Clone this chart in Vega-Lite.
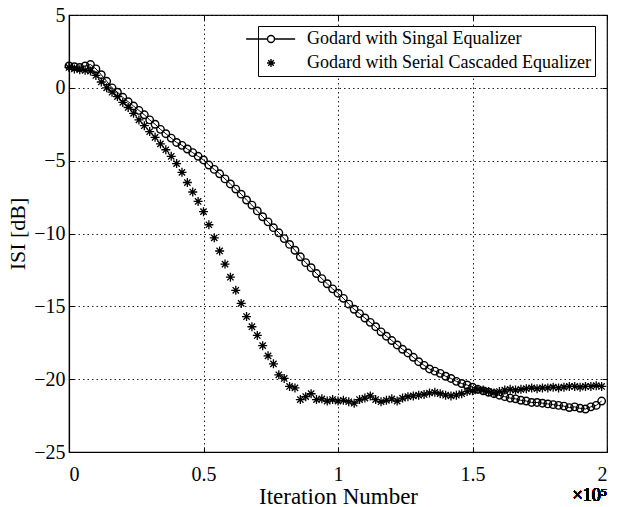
{
  "$schema": "https://vega.github.io/schema/vega-lite/v6.json",
  "width": 538,
  "height": 437,
  "autosize": {"type": "none"},
  "padding": {"left": 69, "top": 15, "right": 16, "bottom": 55},
  "background": "white",
  "config": {
    "font": "Liberation Serif",
    "view": {"stroke": "black", "strokeWidth": 1.2},
    "axis": {
      "domainColor": "black",
      "domainWidth": 1.2,
      "tickColor": "black",
      "tickSize": -5,
      "labelColor": "black",
      "titleColor": "black",
      "labelFont": "Liberation Serif",
      "titleFont": "Liberation Serif",
      "labelFontSize": 20,
      "titleFontSize": 22,
      "titleFontWeight": "normal",
      "gridColor": "#222222",
      "gridDash": [1.5, 3],
      "gridWidth": 1,
      "gridOpacity": 1
    }
  },
  "datasets": {
    "isi": [
      {"iter": 0, "isi": 1.5, "series": "single"}, {"iter": 2000, "isi": 1.45, "series": "single"}, {"iter": 4000, "isi": 1.4, "series": "single"}, {"iter": 6000, "isi": 1.5, "series": "single"}, {"iter": 8000, "isi": 1.6, "series": "single"},
      {"iter": 10000, "isi": 1.3, "series": "single"}, {"iter": 12000, "isi": 0.9, "series": "single"}, {"iter": 14000, "isi": 0.45, "series": "single"}, {"iter": 16000, "isi": 0.0, "series": "single"}, {"iter": 18000, "isi": -0.3, "series": "single"},
      {"iter": 20000, "isi": -0.65, "series": "single"}, {"iter": 22000, "isi": -0.95, "series": "single"}, {"iter": 24000, "isi": -1.25, "series": "single"}, {"iter": 26000, "isi": -1.55, "series": "single"}, {"iter": 28000, "isi": -1.85, "series": "single"},
      {"iter": 30000, "isi": -2.2, "series": "single"}, {"iter": 32000, "isi": -2.5, "series": "single"}, {"iter": 34000, "isi": -2.85, "series": "single"}, {"iter": 36000, "isi": -3.15, "series": "single"}, {"iter": 38000, "isi": -3.45, "series": "single"},
      {"iter": 40000, "isi": -3.75, "series": "single"}, {"iter": 42000, "isi": -3.95, "series": "single"}, {"iter": 44000, "isi": -4.2, "series": "single"}, {"iter": 46000, "isi": -4.45, "series": "single"}, {"iter": 48000, "isi": -4.7, "series": "single"},
      {"iter": 50000, "isi": -4.95, "series": "single"}, {"iter": 52000, "isi": -5.3, "series": "single"}, {"iter": 54000, "isi": -5.6, "series": "single"}, {"iter": 56000, "isi": -5.9, "series": "single"}, {"iter": 58000, "isi": -6.25, "series": "single"},
      {"iter": 60000, "isi": -6.6, "series": "single"}, {"iter": 62000, "isi": -6.95, "series": "single"}, {"iter": 64000, "isi": -7.3, "series": "single"}, {"iter": 66000, "isi": -7.7, "series": "single"}, {"iter": 68000, "isi": -8.05, "series": "single"},
      {"iter": 70000, "isi": -8.45, "series": "single"}, {"iter": 72000, "isi": -8.85, "series": "single"}, {"iter": 74000, "isi": -9.2, "series": "single"}, {"iter": 76000, "isi": -9.6, "series": "single"}, {"iter": 78000, "isi": -9.95, "series": "single"},
      {"iter": 80000, "isi": -10.35, "series": "single"}, {"iter": 82000, "isi": -10.75, "series": "single"}, {"iter": 84000, "isi": -11.15, "series": "single"}, {"iter": 86000, "isi": -11.6, "series": "single"}, {"iter": 88000, "isi": -12.0, "series": "single"},
      {"iter": 90000, "isi": -12.35, "series": "single"}, {"iter": 92000, "isi": -12.75, "series": "single"}, {"iter": 94000, "isi": -13.1, "series": "single"}, {"iter": 96000, "isi": -13.45, "series": "single"}, {"iter": 98000, "isi": -13.8, "series": "single"},
      {"iter": 100000, "isi": -14.1, "series": "single"}, {"iter": 102000, "isi": -14.45, "series": "single"}, {"iter": 104000, "isi": -14.85, "series": "single"}, {"iter": 106000, "isi": -15.2, "series": "single"}, {"iter": 108000, "isi": -15.5, "series": "single"},
      {"iter": 110000, "isi": -15.8, "series": "single"}, {"iter": 112000, "isi": -16.1, "series": "single"}, {"iter": 114000, "isi": -16.4, "series": "single"}, {"iter": 116000, "isi": -16.75, "series": "single"}, {"iter": 118000, "isi": -17.05, "series": "single"},
      {"iter": 120000, "isi": -17.35, "series": "single"}, {"iter": 122000, "isi": -17.65, "series": "single"}, {"iter": 124000, "isi": -17.95, "series": "single"}, {"iter": 126000, "isi": -18.2, "series": "single"}, {"iter": 128000, "isi": -18.5, "series": "single"},
      {"iter": 130000, "isi": -18.8, "series": "single"}, {"iter": 132000, "isi": -19.05, "series": "single"}, {"iter": 134000, "isi": -19.3, "series": "single"}, {"iter": 136000, "isi": -19.45, "series": "single"}, {"iter": 138000, "isi": -19.6, "series": "single"},
      {"iter": 140000, "isi": -19.8, "series": "single"}, {"iter": 142000, "isi": -19.95, "series": "single"}, {"iter": 144000, "isi": -20.15, "series": "single"}, {"iter": 146000, "isi": -20.3, "series": "single"}, {"iter": 148000, "isi": -20.4, "series": "single"},
      {"iter": 150000, "isi": -20.55, "series": "single"}, {"iter": 152000, "isi": -20.7, "series": "single"}, {"iter": 154000, "isi": -20.8, "series": "single"}, {"iter": 156000, "isi": -20.9, "series": "single"}, {"iter": 158000, "isi": -21.0, "series": "single"},
      {"iter": 160000, "isi": -21.1, "series": "single"}, {"iter": 162000, "isi": -21.2, "series": "single"}, {"iter": 164000, "isi": -21.3, "series": "single"}, {"iter": 166000, "isi": -21.35, "series": "single"}, {"iter": 168000, "isi": -21.45, "series": "single"},
      {"iter": 170000, "isi": -21.5, "series": "single"}, {"iter": 172000, "isi": -21.6, "series": "single"}, {"iter": 174000, "isi": -21.6, "series": "single"}, {"iter": 176000, "isi": -21.65, "series": "single"}, {"iter": 178000, "isi": -21.7, "series": "single"},
      {"iter": 180000, "isi": -21.75, "series": "single"}, {"iter": 182000, "isi": -21.8, "series": "single"}, {"iter": 184000, "isi": -21.85, "series": "single"}, {"iter": 186000, "isi": -21.95, "series": "single"}, {"iter": 188000, "isi": -21.9, "series": "single"},
      {"iter": 190000, "isi": -22.0, "series": "single"}, {"iter": 192000, "isi": -22.05, "series": "single"}, {"iter": 194000, "isi": -21.9, "series": "single"}, {"iter": 196000, "isi": -21.8, "series": "single"}, {"iter": 198000, "isi": -21.5, "series": "single"},

      {"iter": 0, "isi": 1.4, "series": "serial"}, {"iter": 2000, "isi": 1.3, "series": "serial"}, {"iter": 4000, "isi": 1.25, "series": "serial"}, {"iter": 6000, "isi": 1.2, "series": "serial"}, {"iter": 8000, "isi": 1.15, "series": "serial"},
      {"iter": 10000, "isi": 0.85, "series": "serial"}, {"iter": 12000, "isi": 0.4, "series": "serial"}, {"iter": 14000, "isi": 0.0, "series": "serial"}, {"iter": 16000, "isi": -0.3, "series": "serial"}, {"iter": 18000, "isi": -0.6, "series": "serial"},
      {"iter": 20000, "isi": -1.0, "series": "serial"}, {"iter": 22000, "isi": -1.35, "series": "serial"}, {"iter": 24000, "isi": -1.75, "series": "serial"}, {"iter": 26000, "isi": -2.2, "series": "serial"}, {"iter": 28000, "isi": -2.6, "series": "serial"},
      {"iter": 30000, "isi": -3.0, "series": "serial"}, {"iter": 32000, "isi": -3.4, "series": "serial"}, {"iter": 34000, "isi": -3.85, "series": "serial"}, {"iter": 36000, "isi": -4.25, "series": "serial"}, {"iter": 38000, "isi": -4.7, "series": "serial"},
      {"iter": 40000, "isi": -5.2, "series": "serial"}, {"iter": 42000, "isi": -5.8, "series": "serial"}, {"iter": 44000, "isi": -6.5, "series": "serial"}, {"iter": 46000, "isi": -7.15, "series": "serial"}, {"iter": 48000, "isi": -7.8, "series": "serial"},
      {"iter": 50000, "isi": -8.5, "series": "serial"}, {"iter": 52000, "isi": -9.4, "series": "serial"}, {"iter": 54000, "isi": -10.3, "series": "serial"}, {"iter": 56000, "isi": -11.2, "series": "serial"}, {"iter": 58000, "isi": -12.1, "series": "serial"},
      {"iter": 60000, "isi": -13.0, "series": "serial"}, {"iter": 62000, "isi": -13.9, "series": "serial"}, {"iter": 64000, "isi": -14.8, "series": "serial"}, {"iter": 66000, "isi": -15.7, "series": "serial"}, {"iter": 68000, "isi": -16.4, "series": "serial"},
      {"iter": 70000, "isi": -17.0, "series": "serial"}, {"iter": 72000, "isi": -17.7, "series": "serial"}, {"iter": 74000, "isi": -18.4, "series": "serial"}, {"iter": 76000, "isi": -18.95, "series": "serial"}, {"iter": 78000, "isi": -19.7, "series": "serial"},
      {"iter": 80000, "isi": -19.95, "series": "serial"}, {"iter": 82000, "isi": -20.5, "series": "serial"}, {"iter": 84000, "isi": -20.6, "series": "serial"}, {"iter": 86000, "isi": -21.4, "series": "serial"}, {"iter": 88000, "isi": -21.2, "series": "serial"},
      {"iter": 90000, "isi": -21.0, "series": "serial"}, {"iter": 92000, "isi": -21.4, "series": "serial"}, {"iter": 94000, "isi": -21.35, "series": "serial"}, {"iter": 96000, "isi": -21.5, "series": "serial"}, {"iter": 98000, "isi": -21.4, "series": "serial"},
      {"iter": 100000, "isi": -21.5, "series": "serial"}, {"iter": 102000, "isi": -21.45, "series": "serial"}, {"iter": 104000, "isi": -21.55, "series": "serial"}, {"iter": 106000, "isi": -21.65, "series": "serial"}, {"iter": 108000, "isi": -21.4, "series": "serial"},
      {"iter": 110000, "isi": -21.3, "series": "serial"}, {"iter": 112000, "isi": -21.15, "series": "serial"}, {"iter": 114000, "isi": -21.4, "series": "serial"}, {"iter": 116000, "isi": -21.55, "series": "serial"}, {"iter": 118000, "isi": -21.45, "series": "serial"},
      {"iter": 120000, "isi": -21.35, "series": "serial"}, {"iter": 122000, "isi": -21.5, "series": "serial"}, {"iter": 124000, "isi": -21.3, "series": "serial"}, {"iter": 126000, "isi": -21.2, "series": "serial"}, {"iter": 128000, "isi": -21.15, "series": "serial"},
      {"iter": 130000, "isi": -21.1, "series": "serial"}, {"iter": 132000, "isi": -21.05, "series": "serial"}, {"iter": 134000, "isi": -20.95, "series": "serial"}, {"iter": 136000, "isi": -20.9, "series": "serial"}, {"iter": 138000, "isi": -21.0, "series": "serial"},
      {"iter": 140000, "isi": -21.1, "series": "serial"}, {"iter": 142000, "isi": -21.15, "series": "serial"}, {"iter": 144000, "isi": -21.1, "series": "serial"}, {"iter": 146000, "isi": -21.0, "series": "serial"}, {"iter": 148000, "isi": -20.85, "series": "serial"},
      {"iter": 150000, "isi": -20.8, "series": "serial"}, {"iter": 152000, "isi": -20.7, "series": "serial"}, {"iter": 154000, "isi": -20.75, "series": "serial"}, {"iter": 156000, "isi": -20.85, "series": "serial"}, {"iter": 158000, "isi": -20.95, "series": "serial"},
      {"iter": 160000, "isi": -20.85, "series": "serial"}, {"iter": 162000, "isi": -20.75, "series": "serial"}, {"iter": 164000, "isi": -20.7, "series": "serial"}, {"iter": 166000, "isi": -20.75, "series": "serial"}, {"iter": 168000, "isi": -20.7, "series": "serial"},
      {"iter": 170000, "isi": -20.65, "series": "serial"}, {"iter": 172000, "isi": -20.6, "series": "serial"}, {"iter": 174000, "isi": -20.65, "series": "serial"}, {"iter": 176000, "isi": -20.6, "series": "serial"}, {"iter": 178000, "isi": -20.6, "series": "serial"},
      {"iter": 180000, "isi": -20.55, "series": "serial"}, {"iter": 182000, "isi": -20.6, "series": "serial"}, {"iter": 184000, "isi": -20.55, "series": "serial"}, {"iter": 186000, "isi": -20.5, "series": "serial"}, {"iter": 188000, "isi": -20.5, "series": "serial"},
      {"iter": 190000, "isi": -20.55, "series": "serial"}, {"iter": 192000, "isi": -20.5, "series": "serial"}, {"iter": 194000, "isi": -20.5, "series": "serial"}, {"iter": 196000, "isi": -20.45, "series": "serial"}, {"iter": 198000, "isi": -20.5, "series": "serial"}
    ]
  },
  "data": {"name": "isi"},
  "layer": [
    {
      "transform": [{"filter": "datum.series === 'single'"}],
      "mark": {"type": "line", "color": "black", "strokeWidth": 1},
      "encoding": {
        "x": {
          "field": "iter", "type": "quantitative",
          "scale": {"domain": [0, 200000], "nice": false},
          "axis": {
            "orient": "bottom",
            "values": [0, 50000, 100000, 150000, 200000],
            "labelExpr": "'' + datum.value / 100000",
            "labelPadding": 17,
            "title": "Iteration Number",
            "titleFontSize": 23,
            "titlePadding": 1,
            "grid": true
          }
        },
        "y": {
          "field": "isi", "type": "quantitative",
          "scale": {"domain": [-25, 5], "nice": false},
          "axis": {
            "orient": "left",
            "values": [-25, -20, -15, -10, -5, 0, 5],
            "labelPadding": 9,
            "title": "ISI [dB]",
            "titlePadding": 4,
            "grid": true
          }
        }
      }
    },
    {
      "transform": [{"filter": "datum.series === 'single'"}],
      "mark": {"type": "point", "shape": "circle", "filled": false, "color": "black", "strokeWidth": 1.4, "size": 56, "opacity": 1},
      "encoding": {
        "x": {
          "field": "iter", "type": "quantitative",
          "axis": {"orient": "top", "values": [0, 50000, 100000, 150000, 200000], "labels": false, "grid": false, "title": null, "domain": false}
        },
        "y": {
          "field": "isi", "type": "quantitative",
          "axis": {"orient": "right", "values": [-25, -20, -15, -10, -5, 0, 5], "labels": false, "grid": false, "title": null, "domain": false}
        }
      }
    },
    {
      "transform": [{"filter": "datum.series === 'serial'"}],
      "mark": {"type": "point", "shape": "M0,-1L0,1M-1,0L1,0M-0.7,-0.7L0.7,0.7M-0.7,0.7L0.7,-0.7", "filled": false, "color": "black", "strokeWidth": 1.3, "size": 81, "opacity": 1},
      "encoding": {
        "x": {"field": "iter", "type": "quantitative", "axis": null},
        "y": {"field": "isi", "type": "quantitative", "axis": null}
      }
    },
    {
      "mark": {"type": "point", "filled": false, "color": "black", "strokeWidth": 1.4, "opacity": 0},
      "encoding": {
        "x": {"field": "iter", "type": "quantitative", "axis": null},
        "y": {"field": "isi", "type": "quantitative", "axis": null},
        "shape": {
          "field": "series", "type": "nominal",
          "scale": {
            "domain": ["single", "serial"],
            "range": [
              "M-7.1,0L-1,0M1,0L6.9,0M1,0A1,1,0,1,1,-1,0A1,1,0,1,1,1,0",
              "M0,-1.15L0,1.15M-1.15,0L1.15,0M-0.8,-0.8L0.8,0.8M-0.8,0.8L0.8,-0.8"
            ]
          },
          "legend": {
            "orient": "none",
            "legendX": 189,
            "legendY": 11,
            "title": null,
            "direction": "vertical",
            "padding": 4,
            "strokeColor": "black",
            "fillColor": "white",
            "labelFont": "Liberation Serif",
            "labelFontSize": 18,
            "labelColor": "black",
            "labelOffset": 27,
            "labelLimit": 400,
            "labelExpr": "datum.value === 'single' ? 'Godard with Singal Equalizer' : 'Godard with Serial Cascaded Equalizer'",
            "symbolSize": 49,
            "symbolOpacity": 1,
            "symbolStrokeColor": "black",
            "symbolStrokeWidth": 1.4,
            "symbolFillColor": "transparent",
            "rowPadding": 6,
            "encode": {
              "legend": {"update": {"strokeWidth": {"value": 1.3}}}
            }
          }
        }
      }
    },
    {
      "mark": {"type": "text", "text": "×10⁵", "align": "right", "baseline": "alphabetic", "dy": 49, "font": "Liberation Serif", "fontSize": 18, "color": "black"},
      "encoding": {
        "x": {"datum": 200000, "type": "quantitative", "axis": null},
        "y": {"datum": -25, "type": "quantitative", "axis": null}
      }
    }
  ],
  "resolve": {"axis": {"x": "independent", "y": "independent"}}
}
